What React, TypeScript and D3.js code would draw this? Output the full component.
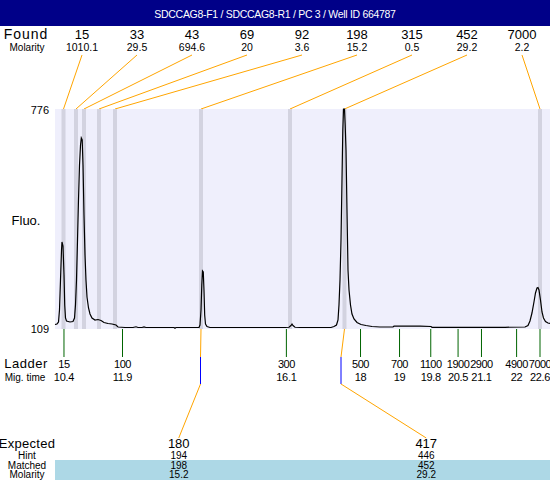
import React from 'react';
import * as d3 from 'd3';

const title = "SDCCAG8-F1 / SDCCAG8-R1 / PC 3 / Well ID 664787";
const foundSizes = [15, 33, 43, 69, 92, 198, 315, 452, 7000];
const foundMolarity = ["1010.1", "29.5", "694.6", "20", "3.6", "15.2", "0.5", "29.2", "2.2"];
const foundTimes = [10.388, 10.708, 10.913, 11.298, 11.708, 13.912, 16.193, 17.589, 22.6];
const ladderSizes = [15, 100, 300, 500, 700, 1100, 1900, 2900, 4900, 7000];
const ladderTimes = ["10.4", "11.9", "16.1", "18", "19", "19.8", "20.5", "21.1", "22", "22.6"];
const expectedSizes = [180, 417];
const hintSizes = [194, 446];
const matchedSizes = [198, 452];
const matchedMolarity = ["15.2", "29.2"];
const matchedFoundIndex = [5, 7];
const matchedTimes = [13.899, 17.5];
const fluoRange = [109, 776];
const timeRange = [10.17, 22.856];

const traceTime = [
  10.170, 10.221, 10.260, 10.285, 10.311, 10.337, 10.349, 10.375, 10.401, 10.419,
  10.439, 10.465, 10.554, 10.631, 10.670, 10.695, 10.721, 10.747, 10.772, 10.798,
  10.824, 10.844, 10.867, 10.888, 10.913, 10.939, 10.964, 10.990, 11.029, 11.067,
  11.118, 11.195, 11.272, 11.349, 11.426, 11.528, 11.631, 11.733, 11.785, 11.964,
  12.169, 12.246, 12.297, 12.400, 12.451, 12.502, 12.861, 13.220, 13.245, 13.271,
  13.630, 13.860, 13.886, 13.912, 13.932, 13.950, 13.970, 13.988, 14.006, 14.027,
  14.065, 14.142, 14.911, 15.680, 16.064, 16.167, 16.218, 16.244, 16.269, 16.321,
  16.449, 16.961, 17.243, 17.320, 17.384, 17.423, 17.448, 17.474, 17.500, 17.525,
  17.546, 17.564, 17.589, 17.607, 17.628, 17.653, 17.679, 17.705, 17.743, 17.781,
  17.833, 17.910, 18.012, 18.140, 18.294, 18.499, 18.832, 18.858, 19.524, 19.806,
  19.832, 20.293, 21.062, 21.703, 22.215, 22.292, 22.343, 22.394, 22.445, 22.484,
  22.523, 22.548, 22.574, 22.612, 22.651, 22.689, 22.740, 22.804, 22.856,
];
const traceFluo = [
  122.6, 124.2, 130.2, 166.6, 257.6, 348.5, 372.8, 360.7, 272.7, 181.8,
  142.4, 133.3, 130.2, 131.7, 142.4, 181.8, 257.6, 378.8, 500.1, 606.2,
  666.9, 688.1, 682.0, 606.2, 454.6, 333.4, 257.6, 206.0, 172.7, 154.5,
  142.4, 136.3, 137.8, 134.8, 128.7, 125.7, 124.2, 121.1, 115.1, 113.5,
  113.5, 115.7, 113.5, 113.5, 115.1, 113.5, 113.5, 113.5, 111.4, 113.5,
  113.5, 113.5, 121.1, 166.6, 242.4, 284.9, 281.8, 227.2, 151.4, 124.2,
  116.6, 113.5, 113.5, 113.5, 113.5, 114.2, 119.6, 124.2, 119.6, 114.2,
  113.5, 113.5, 113.5, 116.6, 121.1, 136.3, 181.8, 257.6, 378.8, 560.8,
  712.4, 776, 776, 727.5, 651.7, 469.8, 287.9, 227.2, 181.8, 154.5,
  139.3, 128.7, 122.6, 119.6, 116.6, 115.1, 115.1, 117.5, 117.5, 116.6,
  114.2, 114.2, 114.2, 114.2, 115.1, 119.6, 133.3, 157.5, 190.9, 218.2,
  233.3, 234.8, 227.2, 196.9, 160.5, 142.4, 131.7, 127.2, 125.7,
];

const W = 550, H = 480;
const FONT = "'Liberation Sans', Arial, sans-serif";
const plot = { l: 55, r: 550, t: 109, b: 329 };
const ORANGE = '#ffa500';

export default function App() {
  const x = d3.scaleLinear().domain(timeRange).range([plot.l, plot.r]);
  const y = d3.scaleLinear().domain(fluoRange).range([plot.b, plot.t]);
  const fx = d3.scalePoint<number>().domain(foundSizes).range([82, 522]).padding(0);
  const ex = d3.scalePoint<number>().domain(expectedSizes).range([plot.l, plot.r]).padding(0.5);
  const line = d3.line<number>().x((i) => x(traceTime[i])).y((i) => y(traceFluo[i]));
  const path = line(d3.range(traceTime.length)) || '';

  const txt = (props: any, s: any) => (
    <text fontFamily={FONT} dominantBaseline="central" textAnchor="middle" fill="#000" {...props}>{s}</text>
  );

  return (
    <svg width={W} height={H} style={{ position: 'absolute', left: 0, top: 0, background: '#fff' }}>
      {/* header */}
      <rect x={0} y={0} width={W} height={26} fill="#000088" />
      {txt({ x: 275, y: 14, fill: '#fff', fontSize: 10.5, letterSpacing: -0.3 }, title)}

      {/* found row */}
      {txt({ x: 26, y: 34, fontSize: 14, letterSpacing: 1 }, 'Found')}
      {txt({ x: 27, y: 47, fontSize: 10 }, 'Molarity')}
      {foundSizes.map((s, i) => (
        <g key={'f' + i}>
          {txt({ x: fx(s), y: 34, fontSize: 13 }, s)}
          {txt({ x: fx(s), y: 47, fontSize: 10.5 }, foundMolarity[i])}
          <line x1={fx(s)} y1={55} x2={x(foundTimes[i])} y2={plot.t} stroke={ORANGE} strokeWidth={1} />
        </g>
      ))}

      {/* plot */}
      <rect x={plot.l} y={plot.t} width={plot.r - plot.l} height={plot.b - plot.t} fill="#efeffc" />
      {foundTimes.map((t, i) => (
        <rect key={'b' + i} x={x(t) - 2} y={plot.t} width={4} height={plot.b - plot.t} fill="#d3d3e0" />
      ))}
      <path d={path} fill="none" stroke="#000" strokeWidth={1.2} />

      {txt({ x: 49, y: 110, fontSize: 11, textAnchor: 'end' }, fluoRange[1])}
      {txt({ x: 49, y: 329, fontSize: 11, textAnchor: 'end' }, fluoRange[0])}
      {txt({ x: 26, y: 220, fontSize: 13 }, 'Fluo.')}

      {/* ladder */}
      {txt({ x: 26, y: 363, fontSize: 13, letterSpacing: 0.5 }, 'Ladder')}
      {txt({ x: 25, y: 377, fontSize: 10 }, 'Mig. time')}
      {ladderSizes.map((s, i) => {
        const lx = x(+ladderTimes[i]);
        return (
          <g key={'l' + i}>
            <line x1={lx} y1={plot.b} x2={lx} y2={357} stroke="#006400" strokeWidth={1} />
            {txt({ x: lx, y: 364, fontSize: 11, letterSpacing: -0.5 }, s)}
            {txt({ x: lx, y: 377, fontSize: 11, letterSpacing: -0.3 }, ladderTimes[i])}
          </g>
        );
      })}

      {/* matching lines */}
      {expectedSizes.map((e, i) => {
        const bx = x(foundTimes[matchedFoundIndex[i]]);
        const mx = x(matchedTimes[i]);
        return (
          <g key={'m' + i}>
            <line x1={bx} y1={plot.b} x2={mx} y2={357} stroke={ORANGE} strokeWidth={1} />
            <line x1={mx} y1={357} x2={mx} y2={384} stroke="#0000ff" strokeWidth={1} />
            <line x1={mx} y1={384} x2={ex(e)} y2={438} stroke={ORANGE} strokeWidth={1} />
          </g>
        );
      })}

      {/* expected table */}
      <rect x={plot.l} y={460} width={plot.r - plot.l} height={20} fill="#add8e6" />
      {txt({ x: 27, y: 443, fontSize: 13, letterSpacing: 0.3 }, 'Expected')}
      {txt({ x: 27, y: 455, fontSize: 10 }, 'Hint')}
      {txt({ x: 27, y: 465, fontSize: 10 }, 'Matched')}
      {txt({ x: 27, y: 474.5, fontSize: 10 }, 'Molarity')}
      {expectedSizes.map((e, i) => (
        <g key={'e' + i}>
          {txt({ x: ex(e), y: 443, fontSize: 13 }, e)}
          {txt({ x: ex(e), y: 455, fontSize: 10 }, hintSizes[i])}
          {txt({ x: ex(e), y: 465, fontSize: 10 }, matchedSizes[i])}
          {txt({ x: ex(e), y: 474.5, fontSize: 10 }, matchedMolarity[i])}
        </g>
      ))}
    </svg>
  );
}
